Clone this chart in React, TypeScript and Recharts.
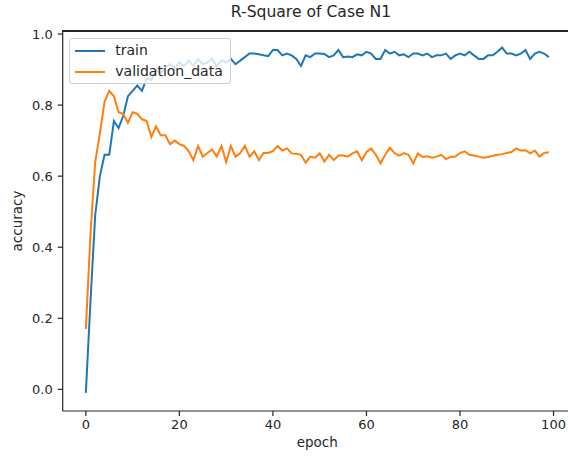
import { LineChart, Line, XAxis, YAxis } from 'recharts';

// epoch 0..99
const trainAcc = [
  -0.01, 0.25, 0.49, 0.6, 0.66, 0.66, 0.755, 0.735, 0.77, 0.825,
  0.84, 0.855, 0.84, 0.875, 0.87, 0.9, 0.89, 0.905, 0.915, 0.905,
  0.92, 0.91, 0.925, 0.91, 0.93, 0.915, 0.92, 0.93, 0.91, 0.925,
  0.92, 0.93, 0.915, 0.925, 0.935, 0.945, 0.945, 0.943, 0.94, 0.938,
  0.955, 0.955, 0.94, 0.945, 0.94, 0.93, 0.91, 0.94, 0.935, 0.945,
  0.945, 0.944, 0.935, 0.94, 0.955, 0.935, 0.937, 0.935, 0.943, 0.94,
  0.95, 0.945, 0.93, 0.93, 0.955, 0.945, 0.95, 0.94, 0.943, 0.935,
  0.945, 0.945, 0.94, 0.945, 0.935, 0.94, 0.94, 0.945, 0.93, 0.94,
  0.945, 0.94, 0.95, 0.94, 0.93, 0.93, 0.94, 0.94, 0.95, 0.962,
  0.945, 0.945, 0.94, 0.945, 0.955, 0.93, 0.945, 0.95, 0.945, 0.935,
];

const valAcc = [
  0.17, 0.44, 0.64, 0.72, 0.81, 0.84, 0.825, 0.78, 0.775, 0.75,
  0.78, 0.775, 0.76, 0.755, 0.71, 0.74, 0.715, 0.715, 0.69, 0.7,
  0.69, 0.685, 0.67, 0.645, 0.685, 0.655, 0.665, 0.675, 0.655, 0.685,
  0.64, 0.685, 0.655, 0.665, 0.685, 0.655, 0.67, 0.645, 0.665, 0.665,
  0.67, 0.685, 0.672, 0.678, 0.664, 0.663, 0.66, 0.638, 0.655, 0.652,
  0.664, 0.641, 0.66, 0.645, 0.658, 0.658, 0.655, 0.664, 0.67, 0.645,
  0.668, 0.678, 0.66, 0.636, 0.66, 0.68, 0.665, 0.658, 0.665, 0.66,
  0.636, 0.664, 0.654, 0.656, 0.652, 0.655, 0.66, 0.648, 0.654, 0.655,
  0.665, 0.67, 0.66, 0.658, 0.655, 0.652, 0.654, 0.657, 0.66, 0.662,
  0.665, 0.668, 0.678, 0.672, 0.673, 0.664, 0.672, 0.655, 0.665, 0.667,
];

const xTicks = [0, 20, 40, 60, 80, 100];
const yTicks = [0, 0.2, 0.4, 0.6, 0.8, 1.0];

const BLUE = '#1f77b4';
const ORANGE = '#ff7f0e';
const INK = '#262626';
const FONT = '"DejaVu Sans", sans-serif';
const Y_MIN = -0.061;
const Y_MAX = 1.0085;

const data = trainAcc.map((v, i) => ({ epoch: i, train: v, val: valAcc[i] }));

export default function App() {
  return (
    <div
      style={{
        position: 'absolute',
        left: 0,
        top: 0,
        width: 568,
        height: 457,
        overflow: 'hidden',
        background: '#fff',
        fontFamily: FONT,
        color: INK,
      }}
    >
      <LineChart width={572} height={457} data={data} margin={{ top: 31, right: 0, bottom: 16, left: 7.7 }}>
        <XAxis
          dataKey="epoch"
          type="number"
          domain={[-4.95, 103.95]}
          allowDataOverflow
          ticks={xTicks}
          interval={0}
          height={30}
          stroke={INK}
          strokeWidth={1.2}
          tickSize={5}
          tickMargin={4}
          tick={{ fill: INK, fontSize: 13, fontFamily: FONT }}
        />
        <YAxis
          type="number"
          domain={[Y_MIN, Y_MAX]}
          allowDataOverflow
          ticks={yTicks}
          interval={0}
          width={55}
          stroke={INK}
          strokeWidth={1.2}
          tickSize={5}
          tickMargin={5}
          tickFormatter={(v: number) => v.toFixed(1)}
          tick={{ fill: INK, fontSize: 13, fontFamily: FONT }}
        />
        <Line dataKey="train" stroke={BLUE} strokeWidth={2} dot={false} isAnimationActive={false} />
        <Line dataKey="val" stroke={ORANGE} strokeWidth={2} dot={false} isAnimationActive={false} />
      </LineChart>

      {/* top spine of the axes frame */}
      <div style={{ position: 'absolute', left: 62.1, top: 30.4, width: 520, height: 1.2, background: INK }} />

      {/* title */}
      <div style={{ position: 'absolute', left: 0, width: 622, top: 3, textAlign: 'center', fontSize: 15.6 }}>
        R-Square of Case N1
      </div>

      {/* axis labels */}
      <div style={{ position: 'absolute', left: 62.7, width: 509, top: 434, textAlign: 'center', fontSize: 13.5 }}>
        epoch
      </div>
      <div
        style={{
          position: 'absolute',
          left: 17,
          top: 221,
          fontSize: 13.5,
          transform: 'translate(-50%, -50%) rotate(-90deg)',
          whiteSpace: 'nowrap',
        }}
      >
        accuracy
      </div>

      {/* legend */}
      <div
        style={{
          position: 'absolute',
          left: 69.3,
          top: 38.3,
          width: 162,
          height: 46,
          border: '1px solid #d0d0d0',
          borderRadius: 3,
          background: 'rgba(255,255,255,0.8)',
          boxSizing: 'border-box',
          fontSize: 14,
        }}
      >
        {[
          { name: 'train', color: BLUE, y: 12 },
          { name: 'validation_data', color: ORANGE, y: 33 },
        ].map((it) => (
          <div key={it.name}>
            <div style={{ position: 'absolute', left: 5, top: it.y - 1, width: 30, height: 2, background: it.color }} />
            <div style={{ position: 'absolute', left: 45, top: it.y - 9, lineHeight: '16px', whiteSpace: 'nowrap' }}>
              {it.name}
            </div>
          </div>
        ))}
      </div>
    </div>
  );
}
